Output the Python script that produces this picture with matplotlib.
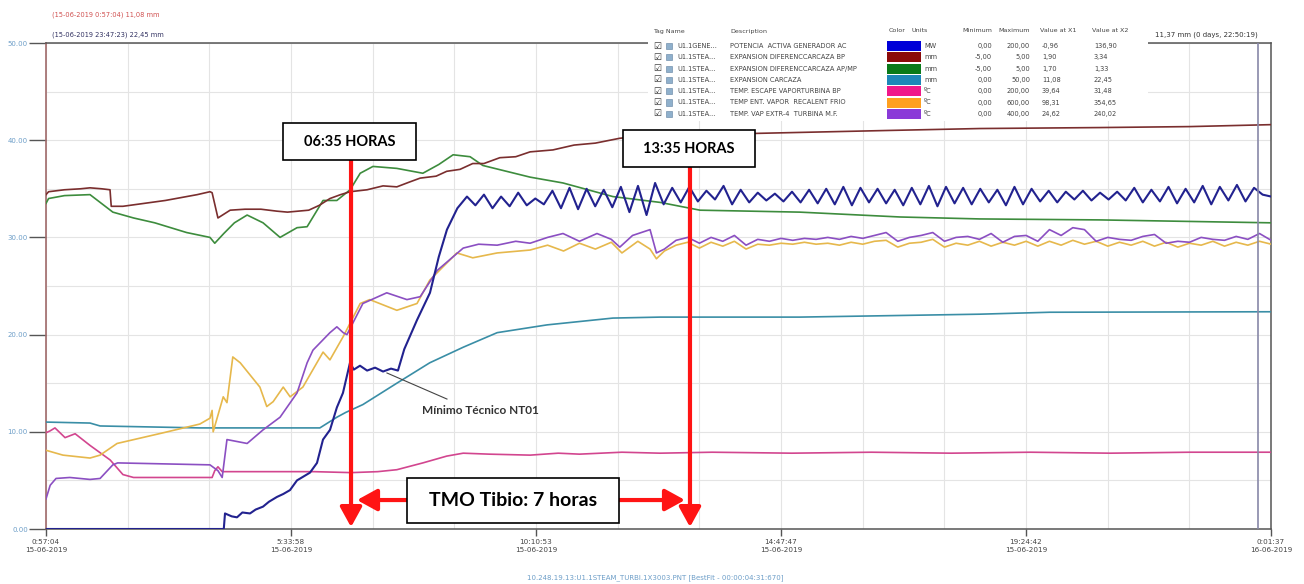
import numpy as np
import matplotlib.pyplot as plt
from matplotlib.patches import Rectangle

W, H = 1304, 584

# time axis in hours counted from 00:00 of 15-06-2019
x_ticks = [0.95111, 5.56611, 10.18139, 14.79639, 19.41167, 24.02694]
x_labels = ["0:57:04\n15-06-2019", "5:33:58\n15-06-2019", "10:10:53\n15-06-2019",
            "14:47:47\n15-06-2019", "19:24:42\n15-06-2019", "0:01:37\n16-06-2019"]
y_ticks = [0, 10, 20, 30, 40, 50]

# POTENCIA ACTIVA GENERADOR AC (blue)
mw_t = [0.951, 4.30, 4.323, 4.45, 4.549, 4.65, 4.794, 4.90, 5.039, 5.15, 5.302, 5.42,
        5.547, 5.679, 5.80, 5.924, 6.056, 6.169, 6.301, 6.43, 6.545, 6.677, 6.75, 6.866,
        7.00, 7.15, 7.30, 7.45, 7.581, 7.70, 7.94, 8.184, 8.35, 8.504, 8.70, 8.881]
mw_v = [0, 0, 1.6, 1.3, 1.2, 1.7, 1.6, 2.0, 2.3, 2.8, 3.3, 3.6,
        4.0, 5.0, 5.4, 5.8, 6.8, 9.2, 10.2, 12.5, 14.0, 17.1, 16.4, 16.8,
        16.3, 16.6, 16.2, 16.5, 16.3, 18.5, 21.5, 24.3, 28.0, 30.8, 33.0, 34.2]
mw_osc = [33.3, 34.4, 33.0, 34.2, 33.2, 34.6, 33.3, 34.0, 33.4, 34.8,
          33.0, 35.1, 32.9, 35.0, 33.2, 34.9, 33.1, 35.2, 32.6, 35.3,
          32.3, 35.6, 33.4, 35.1, 33.6, 35.2, 33.7, 34.8, 33.9, 35.3,
          33.4, 34.9, 33.6, 34.6, 33.8, 34.5, 33.7, 34.7, 33.6, 34.9,
          33.5, 35.0, 33.4, 35.2, 33.3, 35.1, 33.6, 35.0, 33.5, 34.9,
          33.3, 35.1, 33.4, 35.3, 33.2, 35.2, 33.5, 35.1, 33.4, 35.0,
          33.6, 34.9, 33.3, 35.2, 33.4, 35.0, 33.7, 34.8, 33.6, 34.7,
          33.9, 34.8, 33.8, 34.6, 33.9, 34.7, 33.8, 35.1, 33.6, 34.9,
          33.7, 35.2, 33.5, 35.0, 33.6, 35.3, 33.4, 35.2, 33.8, 35.4,
          33.7, 35.1, 34.4, 34.2]

# EXPANSION DIFERENC CARCAZA BP (brown)
bp_t = [0.951, 1.0, 1.3, 1.6, 1.78, 2.0, 2.157, 2.18, 2.40, 2.8, 3.2, 3.5, 3.8, 4.04,
        4.08, 4.19, 4.42, 4.7, 5.0, 5.3, 5.5, 5.9, 6.1, 6.3, 6.5, 6.68, 7.0, 7.3, 7.56, 7.8,
        8.0, 8.3, 8.5, 8.75, 8.99, 9.2, 9.5, 9.8, 10.07, 10.5, 10.9, 11.3, 11.76, 12.33,
        13.5, 15.15, 16.8, 18.54, 20.8, 22.5, 24.03]
bp_v = [34.4, 34.7, 34.9, 35.0, 35.1, 35.0, 34.9, 33.2, 33.2, 33.5, 33.8, 34.1, 34.4, 34.7,
        34.6, 32.0, 32.8, 32.9, 32.9, 32.7, 32.6, 32.8, 33.3, 34.0, 34.4, 34.7, 34.9, 35.3,
        35.2, 35.7, 36.1, 36.3, 36.8, 37.0, 37.6, 37.6, 38.2, 38.3, 38.8, 39.0, 39.5, 39.7,
        40.2, 40.5, 40.6, 40.8, 41.0, 41.2, 41.3, 41.4, 41.6]

# EXPANSION DIFERENC CARCAZA AP/MP (green)
ap_t = [0.951, 1.0, 1.3, 1.78, 2.21, 2.6, 3.0, 3.6, 4.04, 4.13, 4.3, 4.5, 4.74, 5.04,
        5.36, 5.68, 5.87, 6.17, 6.43, 6.68, 6.87, 7.11, 7.56, 8.05, 8.35, 8.62, 8.94, 9.18,
        10.07, 10.69, 11.63, 12.52, 13.27, 15.15, 17.04, 18.54, 20.8, 24.03]
ap_v = [33.5, 34.0, 34.3, 34.4, 32.6, 32.0, 31.5, 30.5, 30.0, 29.4, 30.4, 31.5, 32.3, 31.5,
        30.0, 31.0, 31.1, 33.8, 33.8, 34.9, 36.6, 37.3, 37.1, 36.6, 37.5, 38.5, 38.3, 37.4,
        36.2, 35.6, 34.2, 33.6, 32.8, 32.6, 32.1, 31.9, 31.8, 31.5]

# EXPANSION CARCAZA (teal)
exp_t = [0.951, 1.78, 1.97, 3.85, 5.73, 6.11, 6.43, 6.60, 6.92, 7.56, 8.18, 8.81, 9.45,
         10.39, 11.63, 12.52, 15.15, 18.54, 19.86, 24.03]
exp_v = [11.0, 10.9, 10.6, 10.4, 10.4, 10.4, 11.5, 12.0, 12.8, 15.0, 17.1, 18.7, 20.2,
         21.0, 21.7, 21.8, 21.8, 22.1, 22.3, 22.35]

# TEMP. ESCAPE VAPOR TURBINA BP (pink)
esc_t = [0.951, 1.03, 1.12, 1.31, 1.50, 1.78, 2.16, 2.40, 2.6, 4.08, 4.13, 4.19, 4.27, 5.0,
         6.0, 6.7, 7.2, 7.56, 8.05, 8.5, 8.81, 9.3, 10.07, 10.6, 11.0, 11.8, 12.52, 13.5,
         15.0, 16.5, 18.0, 19.5, 21.0, 22.5, 24.03]
esc_v = [9.9, 10.1, 10.4, 9.4, 9.8, 8.6, 7.1, 5.6, 5.3, 5.3, 6.0, 6.4, 5.9, 5.9,
         5.9, 5.8, 5.9, 6.1, 6.8, 7.5, 7.8, 7.7, 7.6, 7.8, 7.7, 7.9, 7.8, 7.9,
         7.8, 7.9, 7.8, 7.9, 7.8, 7.9, 7.9]

# TEMP ENT. VAPOR RECALENT FRIO (orange)
rec_t = [0.951, 1.27, 1.78, 1.97, 2.29, 3.16, 3.85, 4.04, 4.08, 4.10, 4.29, 4.36, 4.47, 4.61,
         4.98, 5.11, 5.23, 5.42, 5.55, 5.79, 6.17, 6.30, 6.55, 6.87, 7.05, 7.56, 7.94, 8.18,
         8.69, 8.99, 9.45, 10.07, 10.4, 10.7, 11.0, 11.3, 11.6, 11.8, 12.1, 12.33, 12.45]
rec_v = [8.1, 7.6, 7.3, 7.6, 8.8, 9.9, 10.8, 11.4, 12.2, 10.0, 13.6, 13.0, 17.7, 17.1,
         14.6, 12.6, 13.1, 14.6, 13.6, 14.6, 18.2, 17.4, 19.8, 23.2, 23.6, 22.5, 23.2, 25.6,
         28.4, 27.9, 28.4, 28.7, 29.2, 28.6, 29.4, 28.8, 29.5, 28.4, 29.6, 28.8, 27.8]
rec_osc = [28.6, 29.2, 29.5, 28.9, 29.5, 29.1, 29.6, 28.8, 29.3, 29.2,
           29.4, 29.3, 29.5, 29.3, 29.4, 29.2, 29.5, 29.3, 29.6, 29.7,
           29.0, 29.4, 29.5, 29.8, 29.0, 29.4, 29.2, 29.6, 29.1, 29.5,
           29.2, 29.6, 29.1, 29.6, 29.2, 29.7, 29.3, 29.6, 29.1, 29.5,
           29.2, 29.6, 29.1, 29.5, 29.0, 29.4, 29.2, 29.6, 29.1, 29.5,
           29.2, 29.6, 29.3]

# TEMP. VAP EXTR-4 TURBINA M.F. (purple)
ext_t = [0.951, 1.03, 1.14, 1.4, 1.78, 1.97, 2.21, 2.3, 4.04, 4.19, 4.27, 4.36, 4.74, 5.04,
         5.36, 5.68, 5.87, 5.98, 6.30, 6.43, 6.55, 6.62, 6.92, 7.37, 7.75, 8.0, 8.32, 8.81,
         9.1, 9.45, 9.8, 10.07, 10.4, 10.69, 11.0, 11.33, 11.6, 11.76, 12.0, 12.33, 12.45]
ext_v = [3.1, 4.5, 5.2, 5.3, 5.1, 5.2, 6.6, 6.8, 6.6, 6.0, 5.3, 9.2, 8.8, 10.2,
         11.5, 14.0, 17.1, 18.4, 20.2, 20.8, 20.2, 20.0, 23.2, 24.3, 23.6, 23.9, 26.6, 28.9,
         29.3, 29.2, 29.6, 29.4, 30.0, 30.4, 29.6, 30.4, 29.8, 29.0, 30.2, 30.8, 28.4]
ext_osc = [28.8, 29.7, 30.0, 29.4, 30.0, 29.6, 30.2, 29.2, 29.8, 29.6,
           29.9, 29.7, 29.9, 29.8, 30.0, 29.8, 30.1, 29.9, 30.2, 30.5,
           29.6, 30.0, 30.2, 30.5, 29.6, 30.0, 30.1, 29.8, 30.4, 29.5,
           30.1, 30.2, 29.6, 30.8, 30.2, 31.0, 30.8, 29.6, 30.0, 29.8,
           29.7, 30.1, 30.3, 29.4, 29.6, 29.5, 30.0, 29.8, 29.7, 30.1,
           29.8, 30.4, 29.7]

# legend table
tags = ["U1.1GENE...", "U1.1STEA...", "U1.1STEA...", "U1.1STEA...",
        "U1.1STEA...", "U1.1STEA...", "U1.1STEA..."]
descs = ["POTENCIA  ACTIVA GENERADOR AC", "EXPANSION DIFERENCCARCAZA BP",
         "EXPANSION DIFERENCCARCAZA AP/MP", "EXPANSION CARCAZA",
         "TEMP. ESCAPE VAPORTURBINA BP", "TEMP ENT. VAPOR  RECALENT FRIO",
         "TEMP. VAP EXTR-4  TURBINA M.F."]
units = ["MW", "mm", "mm", "mm", "ºC", "ºC", "ºC"]
mins = ["0,00", "-5,00", "-5,00", "0,00", "0,00", "0,00", "0,00"]
maxs = ["200,00", "5,00", "5,00", "50,00", "200,00", "600,00", "400,00"]
val_x1 = ["-0,96", "1,90", "1,70", "11,08", "39,64", "98,31", "24,62"]
val_x2 = ["136,90", "3,34", "1,33", "22,45", "31,48", "354,65", "240,02"]
swatch = ["#0000d8", "#8b0a0a", "#0a7a1a", "#1e86b8", "#f0188a", "#ffa020", "#8a3ad8"]

c_mw, c_bp, c_ap, c_exp = "#22228f", "#7a2e2e", "#3d8c3d", "#3a8ea6"
c_esc, c_rec, c_ext = "#d2468f", "#e6b84c", "#8b4fc2"
red = "#ff1414"


def fx(px):
    return px / W


def fy(py):
    return 1 - py / H


fig = plt.figure(figsize=(W / 100, H / 100), dpi=100)
ax = fig.add_axes([fx(46), 55 / H, 1225 / W, 486 / H])

ax.plot(exp_t, exp_v, color=c_exp, lw=1.2, zorder=3)
ax.plot(esc_t, esc_v, color=c_esc, lw=1.2, zorder=3)
rec_t2 = np.concatenate([rec_t, np.linspace(12.6, 24.03, len(rec_osc))])
ax.plot(rec_t2, rec_v + rec_osc, color=c_rec, lw=1.2, zorder=3)
ext_t2 = np.concatenate([ext_t, np.linspace(12.6, 24.03, len(ext_osc))])
ax.plot(ext_t2, ext_v + ext_osc, color=c_ext, lw=1.2, zorder=3)
ax.plot(ap_t, ap_v, color=c_ap, lw=1.2, zorder=3)
ax.plot(bp_t, bp_v, color=c_bp, lw=1.2, zorder=3)
mw_t2 = np.concatenate([mw_t, np.linspace(9.04, 24.03, len(mw_osc))])
ax.plot(mw_t2, mw_v + mw_osc, color=c_mw, lw=1.5, zorder=4)

ax.set_xlim(x_ticks[0], x_ticks[-1])
ax.set_ylim(0, 50)
ax.set_xticks(x_ticks)
ax.set_xticklabels(x_labels)
ax.set_xticks(np.linspace(x_ticks[0], x_ticks[-1], 16), minor=True)
ax.set_yticks(y_ticks)
ax.set_yticklabels(["%.2f" % v for v in y_ticks])
ax.set_yticks(np.arange(0, 51, 5), minor=True)
ax.grid(True, which="both", color="#e4e4e4", lw=0.8)
ax.set_axisbelow(True)
ax.tick_params(axis="y", which="major", length=12, width=1, color="#555555",
               labelsize=5, labelcolor="#6d9ec8", pad=1)
ax.tick_params(axis="x", which="major", length=5, width=1, color="#555555",
               labelsize=5.2, labelcolor="#444444", pad=2)
ax.tick_params(which="minor", length=0)
for lab in ax.get_xticklabels():
    lab.set_linespacing(1.5)
for side in ["top", "bottom", "right"]:
    ax.spines[side].set_color("#555555")
    ax.spines[side].set_linewidth(1.1)
ax.spines["left"].set_color("#a06a6a")
ax.spines["left"].set_linewidth(1.2)
ax.axvline(23.79, color="#8888a8", lw=1.2, zorder=5)

# header texts
fig.text(fx(52), fy(15), "(15-06-2019 0:57:04) 11,08 mm", fontsize=4.8, color="#d05050", va="center")
fig.text(fx(52), fy(35), "(15-06-2019 23:47:23) 22,45 mm", fontsize=4.8, color="#303060", va="center")
fig.text(fx(1155), fy(35), "11,37 mm (0 days, 22:50:19)", fontsize=5, color="#333333", va="center")
fig.text(fx(655), fy(578), "10.248.19.13:U1.1STEAM_TURBI.1X3003.PNT [BestFit - 00:00:04:31:670]",
         fontsize=5, color="#6d9ec8", ha="center", va="center")

# legend table
fig.patches.append(Rectangle((fx(648), fy(121)), 500 / W, 99 / H, transform=fig.transFigure,
                             facecolor="white", edgecolor="none", zorder=5))
hdr_y = 31
hk = dict(fontsize=4.6, color="#444444", va="center", zorder=6)
fig.text(fx(653), fy(hdr_y), "Tag Name", **hk)
fig.text(fx(730), fy(hdr_y), "Description", **hk)
fig.text(fx(889), fy(hdr_y), "Color", **hk)
fig.text(fx(912), fy(hdr_y), "Units", **hk)
fig.text(fx(992), fy(hdr_y), "Minimum", ha="right", **hk)
fig.text(fx(1030), fy(hdr_y), "Maximum", ha="right", **hk)
fig.text(fx(1040), fy(hdr_y), "Value at X1", **hk)
fig.text(fx(1092), fy(hdr_y), "Value at X2", **hk)
rk = dict(fontsize=4.8, color="#444444", va="center", zorder=6)
for i in range(len(tags)):
    ry = 46 + 11.3 * i
    fig.text(fx(653), fy(ry), "\u2611", fontsize=6.5, color="#333333", va="center", zorder=6)
    fig.patches.append(Rectangle((fx(666), fy(ry + 3)), 6 / W, 6 / H, transform=fig.transFigure,
                                 facecolor="#8fb0cc", edgecolor="#6080a0", lw=0.4, zorder=6))
    fig.text(fx(677), fy(ry), tags[i], **rk)
    fig.text(fx(730), fy(ry), descs[i], **rk)
    fig.patches.append(Rectangle((fx(887), fy(ry + 5)), 34 / W, 10 / H, transform=fig.transFigure,
                                 facecolor=swatch[i], edgecolor="none", zorder=6))
    fig.text(fx(924), fy(ry), units[i], **rk)
    fig.text(fx(992), fy(ry), mins[i], ha="right", **rk)
    fig.text(fx(1030), fy(ry), maxs[i], ha="right", **rk)
    fig.text(fx(1042), fy(ry), val_x1[i], **rk)
    fig.text(fx(1094), fy(ry), val_x2[i], **rk)

# annotations
bold = dict(family="Lato", weight="bold", color="black", ha="center", va="center", zorder=11)
for (x0, x1, y0, y1, txt, fs) in [(5.416, 7.921, 37.96, 41.77, "06:35 HORAS", 10.5),
                                  (11.820, 14.307, 37.24, 41.05, "13:35 HORAS", 10.5),
                                  (7.751, 11.745, 0.62, 5.25, "TMO Tibio: 7 horas", 14)]:
    ax.add_patch(Rectangle((x0, y0), x1 - x0, y1 - y0, facecolor="white", edgecolor="black",
                           lw=1.2, zorder=10))
    ax.text((x0 + x1) / 2, (y0 + y1) / 2, txt, fontsize=fs, **bold)

arr = dict(arrowstyle="-|>,head_length=1.0,head_width=0.55", mutation_scale=12, lw=3,
           color=red, shrinkA=0, shrinkB=0)
ax.annotate("", xy=(6.697, 0.2), xytext=(6.697, 37.96), arrowprops=arr, zorder=9)
ax.annotate("", xy=(13.082, 0.2), xytext=(13.082, 37.24), arrowprops=arr, zorder=9)
ax.annotate("", xy=(6.81, 2.98), xytext=(7.751, 2.98), arrowprops=arr, zorder=9)
ax.annotate("", xy=(12.988, 2.98), xytext=(11.745, 2.98), arrowprops=arr, zorder=9)

ax.plot([7.374, 8.504], [16.05, 13.37], color="#444444", lw=0.8, zorder=6)
ax.text(8.034, 12.24, "Mínimo Técnico NT01", family="Lato", weight="bold", fontsize=8.5,
        color="#333333", va="center", zorder=6)

fig.savefig("out.png", dpi=100)
